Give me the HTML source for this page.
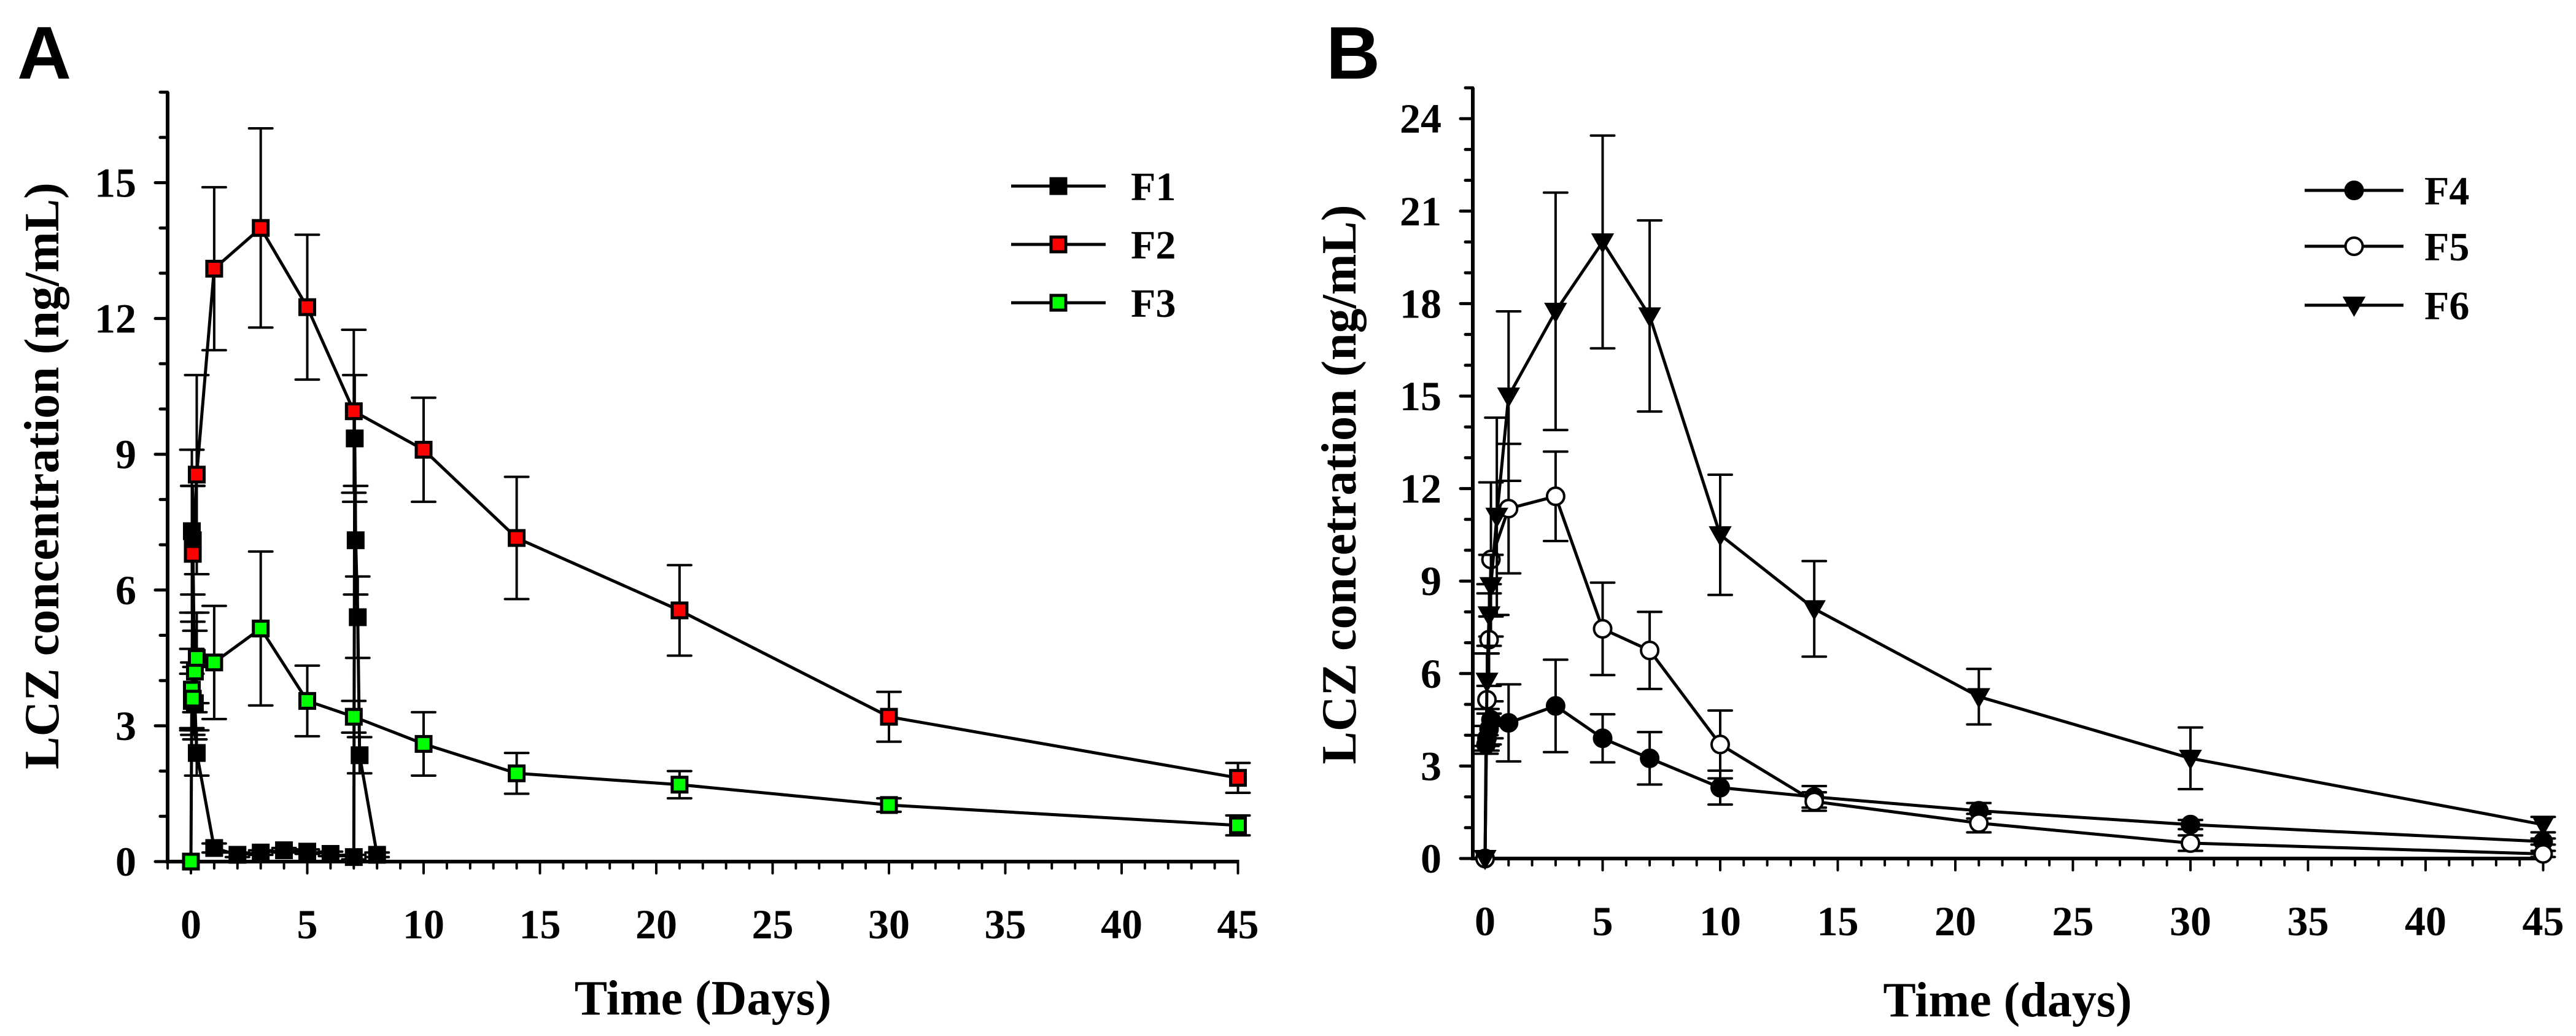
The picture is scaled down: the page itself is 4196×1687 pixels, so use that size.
<!DOCTYPE html>
<html><head><meta charset="utf-8">
<style>
html,body{margin:0;padding:0;background:#fff;}
svg{display:block;}
text{font-family:"Liberation Serif",serif;font-weight:bold;fill:#000;}
.lab{font-family:"Liberation Sans",sans-serif;}
</style></head>
<body>
<svg id="fig" width="4196" height="1687" viewBox="0 0 4196 1687" xmlns="http://www.w3.org/2000/svg">
<g id="panelA"></g>
<g id="panelB"></g>
</svg>
<script>
// ---- Panel A data ----
const f1Days = [0.04,0.08,0.17,0.25,1,2,3,4,5,6,7,7.04,7.08,7.17,7.25,8];
const f1Vals = [7.3,7.1,3.5,2.4,0.3,0.15,0.2,0.25,0.22,0.17,0.1,9.35,7.1,5.4,2.35,0.15];
const f1Sd   = [1.8,1.2,0.8,0.5,0.1,0.05,0.05,0.05,0.05,0.05,0.05,1.4,1.2,0.9,0.4,0.05];
const f2Days = [0.04,0.08,0.25,1,3,5,7,10,14,21,30,45];
const f2Vals = [3.55,6.8,8.55,13.1,14.0,12.25,9.95,9.1,7.15,5.55,3.2,1.85];
const f2Sd   = [0.6,1.5,2.2,1.8,2.2,1.6,1.8,1.15,1.35,1.0,0.55,0.33];
const f3Days = [0,0.04,0.08,0.17,0.25,1,3,5,7,10,14,21,30,45];
const f3Vals = [0,3.8,3.6,4.2,4.5,4.4,5.15,3.55,3.2,2.6,1.95,1.7,1.25,0.8];
const f3Sd   = [0,0.9,0.8,0.9,1.0,1.25,1.7,0.78,0.35,0.7,0.45,0.3,0.15,0.22];
const aYTicks = [0,3,6,9,12,15];
const aXTicks = [0,5,10,15,20,25,30,35,40,45];
// ---- Panel B data ----
const f4Days = [0,0.04,0.08,0.17,0.25,1,3,5,7,10,14,21,30,45];
const f4Vals = [0,3.7,3.9,4.2,4.5,4.4,4.95,3.9,3.25,2.3,2.0,1.55,1.1,0.55];
const f4Sd   = [0,0.3,0.4,0.5,0.6,1.25,1.5,0.78,0.85,0.55,0.35,0.25,0.15,0.1];
const f5Days = [0,0.08,0.17,0.25,1,3,5,7,10,14,21,30,45];
const f5Vals = [0,5.15,7.1,9.7,11.35,11.75,7.45,6.75,3.7,1.85,1.15,0.5,0.15];
const f5Sd   = [0,1.5,1.5,2.5,2.1,1.45,1.5,1.25,1.1,0.3,0.3,0.25,0.1];
const f6Days = [0,0.08,0.17,0.25,0.5,1,3,5,7,10,14,21,30,45];
const f6Vals = [0,5.75,7.9,8.85,11.1,15.0,17.75,20.0,17.6,10.5,8.1,5.25,3.25,1.1];
const f6Sd   = [0,0.9,1.0,1.0,3.2,2.75,3.85,3.45,3.1,1.95,1.55,0.9,1.0,0.25];
const bYTicks = [0,3,6,9,12,15,18,21,24];
const bXTicks = [0,5,10,15,20,25,30,35,40,45];

const NS="http://www.w3.org/2000/svg";
function mk(parent,tag,attrs){const e=document.createElementNS(NS,tag);for(const k in attrs)e.setAttribute(k,attrs[k]);parent.appendChild(e);return e;}

function drawPanel(g,cfg){
  const sx=d=>cfg.x0+d*cfg.pxDay;
  const sy=v=>cfg.y0-v*cfg.pxUnit;
  const axisLeft=cfg.axisX, xEnd=sx(45)+2;
  // axes
  const ya=mk(g,'line',{x1:axisLeft,y1:sy(cfg.yTop),x2:axisLeft,y2:cfg.y0+2,stroke:'#000','stroke-width':6});
  
  const xa=mk(g,'line',{x1:axisLeft-3,y1:cfg.y0,x2:xEnd,y2:cfg.y0,stroke:'#000','stroke-width':6});
  
  // y ticks
  for(let v=0;v<=cfg.yTop;v++){
    const major=cfg.yTicks.includes(v);
    mk(g,'line',{x1:axisLeft-(major?20:12),y1:sy(v),x2:axisLeft,y2:sy(v),stroke:'#000','stroke-width':5,'stroke-linecap':'round'});
  }
  cfg.yTicks.forEach(v=>{
    const t=mk(g,'text',{x:cfg.yLabRight,y:sy(v)+23,'text-anchor':'end','font-size':68});
    t.textContent=v;
    
  });
  // x ticks
  for(let d=cfg.xTickStart;d<=45;d++){
    const major=aXTicks.includes(d);
    mk(g,'line',{x1:sx(d),y1:cfg.y0,x2:sx(d),y2:cfg.y0+(major?19:11),stroke:'#000','stroke-width':4,'stroke-linecap':'round'});
  }
  cfg.xTicks.forEach(d=>{
    const t=mk(g,'text',{x:sx(d),y:cfg.y0+125,'text-anchor':'middle','font-size':68});
    t.textContent=d;
    
  });
  // titles
  const xt=mk(g,'text',{x:cfg.xTitleX,y:cfg.xTitleY,'text-anchor':'middle','font-size':80});
  xt.textContent=cfg.xTitle;
  
  const yt=mk(g,'text',{x:0,y:0,'text-anchor':'middle','font-size':80,transform:`translate(${cfg.yTitleX},${cfg.yTitleY}) rotate(-90)`});
  yt.textContent=cfg.yTitle;
  
  const pl=mk(g,'text',{x:cfg.labelX,y:128,'font-size':122,'class':'lab'});
  pl.textContent=cfg.label;
  
  // series
  cfg.series.forEach(s=>{
    const sg=mk(g,'g',{});
    
    
    const pts=s.days.map((d,i)=>sx(d)+','+sy(s.vals[i])).join(' ');
    mk(sg,'polyline',{points:pts,fill:'none',stroke:'#000','stroke-width':5,'stroke-linejoin':'round'});
    s.days.forEach((d,i)=>{
      if(s.sd[i]<=0)return;
      const x=sx(d),yu=sy(s.vals[i]+s.sd[i]),yl=sy(Math.max(0,s.vals[i]-s.sd[i]));
      const eb=mk(sg,'path',{d:`M${x},${yu}V${yl}M${x-19},${yu}H${x+19}M${x-19},${yl}H${x+19}`,stroke:'#000','stroke-width':4,fill:'none','stroke-linecap':'round'});
      
    });
    s.days.forEach((d,i)=>{
      const m=drawMarker(sg,s.marker,s.fill,sx(d),sy(s.vals[i]));
      
      
    });
  });
  // legend
  cfg.series.forEach((s,i)=>{
    const lg=mk(g,'g',{});
    
    
    const y=cfg.legY[i];
    mk(lg,'line',{x1:cfg.legX1,y1:y,x2:cfg.legX2,y2:y,stroke:'#000','stroke-width':5});
    drawMarker(lg,s.marker,s.fill,(cfg.legX1+cfg.legX2)/2,y);
    const t=mk(lg,'text',{x:cfg.legTextX,y:y+23,'font-size':66});
    t.textContent=s.name;
  });
}
function drawMarker(g,type,fill,x,y){
  if(type==='square') return mk(g,'rect',{x:x-12,y:y-12,width:24,height:24,fill:fill,stroke:'#000','stroke-width':5});
  if(type==='circle') return mk(g,'circle',{cx:x,cy:y,r:14,fill:fill,stroke:'#000','stroke-width':4});
  return mk(g,'path',{d:`M${x-17},${y-13}H${x+17}L${x},${y+17}Z`,fill:'#000',stroke:'#000','stroke-width':2});
}

drawPanel(document.getElementById('panelA'),{
  x0:311,pxDay:37.9,y0:1403,pxUnit:73.7,yTop:17,axisX:273,xTickStart:-1,
  yTicks:aYTicks,xTicks:aXTicks,yLabRight:222,
  xTitle:'Time (Days)',xTitleX:1145,xTitleY:1652,
  yTitle:'LCZ concentration (ng/mL)',yTitleX:95,yTitleY:775,
  label:'A',labelX:28,
  legX1:1647,legX2:1801,legTextX:1842,legY:[303,398,493],
  series:[
    {name:'F1',days:f1Days,vals:f1Vals,sd:f1Sd,marker:'square',fill:'#000'},
    {name:'F2',days:f2Days,vals:f2Vals,sd:f2Sd,marker:'square',fill:'#ff0000'},
    {name:'F3',days:f3Days,vals:f3Vals,sd:f3Sd,marker:'square',fill:'#00ff00'}
  ]
});
drawPanel(document.getElementById('panelB'),{
  x0:2419,pxDay:38.3,y0:1398,pxUnit:50.2,yTop:25,axisX:2399,xTickStart:1,
  yTicks:bYTicks,xTicks:bXTicks,yLabRight:2348,
  xTitle:'Time (days)',xTitleX:3270,xTitleY:1655,
  yTitle:'LCZ concetration (ng/mL)',yTitleX:2208,yTitleY:789,
  label:'B',labelX:2160,
  legX1:3754,legX2:3915,legTextX:3949,legY:[310,401,497],
  series:[
    {name:'F4',days:f4Days,vals:f4Vals,sd:f4Sd,marker:'circle',fill:'#000'},
    {name:'F5',days:f5Days,vals:f5Vals,sd:f5Sd,marker:'circle',fill:'#fff'},
    {name:'F6',days:f6Days,vals:f6Vals,sd:f6Sd,marker:'triangle',fill:'#000'}
  ]
});
</script>
</body></html>
